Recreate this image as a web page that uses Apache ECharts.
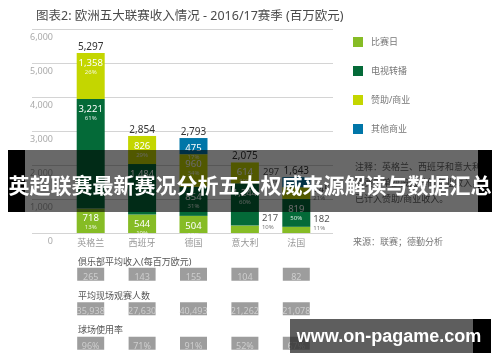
<!DOCTYPE html>
<html><head><meta charset="utf-8">
<script src="https://cdn.jsdelivr.net/npm/echarts@6/dist/echarts.min.js"></script>
<style>html,body{margin:0;padding:0;background:#fff}#c{width:500px;height:362px}</style>
</head><body><div id="c"></div>
<script>
// ---- data ----
const categories = ['英格兰', '西班牙', '德国', '意大利', '法国'];
const seriesNames = ['比赛日', '电视转播', '赞助/商业', '其他商业'];
const matchday = [718, 544, 504, 217, 182];
const matchdayPct = [13, 19, 18, 10, 11];
const broadcast = [3221, 1484, 854, 1244, 819];
const broadcastPct = [61, 52, 31, 60, 50];
const sponsorship = [1358, 826, 960, 614, 345];
const sponsorshipPct = [26, 29, 34, 30, 21];
const otherCommercial = [null, null, 475, null, 297];
const otherCommercialPct = [null, null, 17, null, 18];
const totals = [5297, 2854, 2793, 2075, 1643];
const yTicks = [0, 1000, 2000, 3000, 4000, 5000, 6000];
const tableRows = ['俱乐部平均收入(每百万欧元)', '平均现场观赛人数', '球场使用率'];
const avgClubRevenue = ['265', '143', '155', '104', '82'];
const avgAttendance = ['35,938', '27,630', '40,493', '21,262', '21,078'];
const utilisation = ['96%', '71%', '91%', '52%', '67%'];
const titleText = '图表2: 欧洲五大联赛收入情况 - 2016/17赛季 (百万欧元)';
const noteLines = ['注释：英格兰、西班牙和意大利', '联赛未单独披露其他商业收入，', '已计入赞助/商业收入。'];
const sourceText = '来源：联赛；德勤分析';
const bannerText = '英超联赛最新赛况分析五大权威来源解读与数据汇总';
const watermarkText = 'www.on-pagame.com';

// ---- styles ----
const FONT = "'Noto Sans', 'Noto Sans CJK SC', sans-serif";
const colors = ['#86BC25', '#046A38', '#C4D600', '#0076A8'];
const fmt = v => Number(v).toLocaleString('en-US');

const insideLabel = pcts => ({
  show: true, position: 'insideTop', distance: 5,
  formatter: p => '{v|' + fmt(p.value) + '}\n{p|' + pcts[p.dataIndex] + '%}',
  rich: {
    v: {color: '#fff', fontSize: 9.5, lineHeight: 10, fontFamily: FONT},
    p: {color: 'rgba(255,255,255,0.85)', fontSize: 6, lineHeight: 8, fontFamily: FONT}
  }
});
const outsideRich = {
  v: {color: '#555', fontSize: 9.5, lineHeight: 10, fontFamily: FONT},
  p: {color: '#777', fontSize: 6, lineHeight: 8, fontFamily: FONT}
};
// which small segments have their label outside the bar
const outsideMap = {
  0: {3: {position: 'right', offset: [0, -7]}, 4: {position: 'right', offset: [0, -7]}},
  2: {4: {position: 'right', offset: [0, 0]}},
  3: {4: {position: 'left', offset: [0, -6]}}
};
function buildData(values, sIdx) {
  return values.map((v, i) => {
    const o = (outsideMap[sIdx] || {})[i];
    if (!o || v == null) return v;
    return {value: v, label: {position: o.position, offset: o.offset, distance: 3, rich: outsideRich}};
  });
}
const valueArrays = [matchday, broadcast, sponsorship, otherCommercial];
const pctArrays = [matchdayPct, broadcastPct, sponsorshipPct, otherCommercialPct];

const barSeries = seriesNames.map((name, k) => ({
  name, type: 'bar', stack: 'rev', xAxisIndex: 0, yAxisIndex: 0,
  barWidth: 28, barGap: '-100%',
  itemStyle: {color: colors[k]},
  label: insideLabel(pctArrays[k]),
  data: buildData(valueArrays[k], k)
}));

const totalSeries = {
  name: 'total', type: 'bar', xAxisIndex: 0, yAxisIndex: 0, barWidth: 28, barGap: '-100%',
  itemStyle: {color: 'rgba(0,0,0,0)'}, silent: true, z: 1,
  label: {show: true, position: 'top', distance: 1, color: '#333', fontSize: 10, fontFamily: FONT,
          formatter: p => fmt(p.value)},
  data: totals
};

const rowValues = [avgClubRevenue, avgAttendance, utilisation];
const tableSeries = {
  type: 'scatter', xAxisIndex: 2, yAxisIndex: 2, symbol: 'rect', symbolSize: [27, 13],
  itemStyle: {color: '#858585'}, silent: true,
  label: {show: true, position: 'inside', offset: [0, 3], color: '#d9d9d9', fontSize: 9, fontFamily: FONT,
          formatter: p => p.value[2]},
  data: rowValues.flatMap((arr, r) => arr.map((v, i) => [categories[i], tableRows[r], v]))
};

const chart = echarts.init(document.getElementById('c'), null, {renderer: 'canvas'});
chart.setOption({
  animation: false,
  textStyle: {fontFamily: FONT},
  title: {text: titleText, left: 31, top: 5,
          textStyle: {color: '#4a4a4a', fontSize: 12.5, fontWeight: 'normal', fontFamily: FONT}},
  legend: {
    data: seriesNames, orient: 'vertical', left: 348, top: 32, itemWidth: 10, itemHeight: 10, itemGap: 19,
    icon: 'rect', selectedMode: false,
    textStyle: {color: '#777', fontSize: 9, lineHeight: 10, padding: [0, 0, 0, 3], fontFamily: FONT}
  },
  grid: [
    {left: 65, right: 178, top: 29, bottom: 129},
    {left: 32, right: 167, top: 29, bottom: 129},
    {left: 65, right: 178, top: 257, bottom: 1.5}
  ],
  xAxis: [
    {type: 'category', gridIndex: 0, data: categories, axisLine: {show: false}, axisTick: {show: false},
     axisLabel: {color: '#999', fontSize: 9, margin: 6, fontFamily: FONT}},
    {type: 'value', gridIndex: 1, show: false, min: 0, max: 1},
    {type: 'category', gridIndex: 2, data: categories, show: false}
  ],
  yAxis: [
    {type: 'value', gridIndex: 0, min: 0, max: 6000, interval: 1000, show: false},
    {type: 'value', gridIndex: 1, min: 0, max: 6000, interval: 1000,
     axisLine: {show: false}, axisTick: {show: false},
     splitLine: {lineStyle: {color: '#d4d4d4', width: 1}},
     axisLabel: {inside: true, align: 'right', margin: 21, verticalAlign: 'top', padding: [4, 0, 0, 0],
                 color: '#aaa', fontSize: 9, fontFamily: FONT,
                 formatter: v => yTicks.indexOf(v) >= 0 ? fmt(v) : ''}},
    {type: 'category', gridIndex: 2, data: tableRows, inverse: true, show: false}
  ],
  series: [...barSeries, totalSeries, tableSeries],
  graphic: [
    {type: 'text', left: 78, top: 258, style: {text: tableRows[0], fill: '#555', font: '9px ' + FONT}},
    {type: 'text', left: 78, top: 292, style: {text: tableRows[1], fill: '#555', font: '9px ' + FONT}},
    {type: 'text', left: 78, top: 326, style: {text: tableRows[2], fill: '#555', font: '9px ' + FONT}},
    {type: 'text', left: 355, top: 159, style: {text: noteLines.join('\n'), fill: '#666', font: '9px ' + FONT, lineHeight: 16}},
    {type: 'text', left: 353, top: 238, style: {text: sourceText, fill: '#777', font: '9px ' + FONT}},
    // overlay banner
    {type: 'rect', z: 100, shape: {x: 8, y: 150, width: 484, height: 62}, style: {fill: 'rgba(0,0,0,0.59)'}},
    {type: 'rect', z: 100, shape: {x: 8, y: 150, width: 17, height: 62}, style: {fill: '#000'}},
    {type: 'rect', z: 100, shape: {x: 478, y: 150, width: 14, height: 62}, style: {fill: '#000'}},
    {type: 'text', z: 101, x: 250, y: 185, style: {text: bannerText, fill: '#fff', align: 'center', verticalAlign: 'middle',
      font: 'bold 21px "Noto Sans CJK SC", sans-serif'}},
    // watermark
    {type: 'rect', z: 100, shape: {x: 290, y: 319, width: 183, height: 34}, style: {fill: 'rgba(40,40,40,0.75)'}},
    {type: 'rect', z: 100, shape: {x: 473, y: 319, width: 18, height: 34}, style: {fill: '#000'}},
    {type: 'text', z: 101, x: 389, y: 337, style: {text: watermarkText, fill: '#fff', align: 'center', verticalAlign: 'middle',
      font: 'bold 18px "Liberation Sans", sans-serif'}}
  ]
});
</script></body></html>
